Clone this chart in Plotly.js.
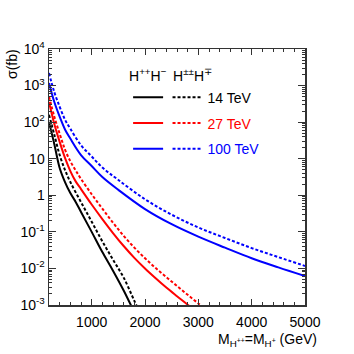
<!DOCTYPE html>
<html>
<head>
<meta charset="utf-8">
<script src="https://cdn.plot.ly/plotly-3.0.1.min.js"></script>
<style>
  body { margin: 0; background: #fff; }
  #plotArea { width: 354px; height: 354px; }
</style>
</head>
<body>
<div id="plotArea"></div>
<script>
// cross sections in fb
// H++H- (solid)
var mass14 = [200, 300, 400, 500, 600, 700, 800, 1000, 1200, 1400, 1600, 1800]
var pair14 = [100, 25, 5.6, 2.3, 1.15, 0.66, 0.35, 0.10, 0.028, 0.0087, 0.0025, 0.00063]
var mass27 = [200, 300, 400, 500, 600, 700, 800, 1000, 1200, 1400, 1600, 1800, 2000, 2200, 2400, 2600, 2800, 3000]
var pair27 = [355, 89, 28.8, 10.5, 4.6, 2.4, 1.48, 0.56, 0.224, 0.093, 0.041, 0.0195, 0.01, 0.0054, 0.003, 0.00174, 0.00102, 0.00058]
var mass100 = [200, 300, 400, 500, 600, 800, 1000, 1200, 1500, 2000, 2500, 3000, 3500, 4000, 4500, 5000]
var pair100 = [1175, 355, 141, 63, 35.5, 12.6, 6.3, 3.16, 1.41, 0.42, 0.162, 0.074, 0.037, 0.019, 0.0107, 0.0062]

// H±±H∓ (dotted)
var massA14 = [200, 300, 400, 500, 600, 800, 1000, 1200, 1400, 1600, 1800, 1900]
var assoc14 = [160, 45, 12.6, 4.9, 2.3, 0.65, 0.19, 0.055, 0.0174, 0.0056, 0.0013, 0.00063]
var massA27 = [200, 300, 400, 500, 600, 700, 800, 1000, 1200, 1400, 1600, 1800, 2000, 2200, 2400, 2600, 2800, 3000, 3200]
var assoc27 = [500, 141, 48, 17.8, 8.5, 4.8, 2.8, 1.07, 0.43, 0.178, 0.078, 0.037, 0.019, 0.0102, 0.0058, 0.0033, 0.0019, 0.0011, 0.00063]
var assoc100 = [2190, 660, 263, 117, 66, 23.4, 11.5, 5.75, 2.63, 0.78, 0.295, 0.132, 0.068, 0.036, 0.0204, 0.0117]

var energies = ["14 TeV", "27 TeV", "100 TeV"]
var colors = ["black", "red", "blue"]

var ytickvals = [0.001, 0.01, 0.1, 1, 10, 100, 1000, 10000]
var yticktext = ["10<sup>-3</sup>", "10<sup>-2</sup>", "10<sup>-1</sup>", "1", "10", "10<sup>2</sup>", "10<sup>3</sup>", "10<sup>4</sup>"]

var solidX = [mass14, mass27, mass100]
var solidY = [pair14, pair27, pair100]
var dotX = [massA14, massA27, mass100]
var dotY = [assoc14, assoc27, assoc100]

var data = []
for (var i = 0; i < 3; i++) {
    data.push({
        x: solidX[i], y: solidY[i],
        mode: "lines", line: { color: colors[i], width: 2, shape: "spline" },
        name: " ", legend: "legend", legendgroup: "s" + i
    })
}
for (var i = 0; i < 3; i++) {
    data.push({
        x: dotX[i], y: dotY[i],
        mode: "lines", line: { color: colors[i], width: 2, dash: "3px,2px", shape: "spline" },
        name: "<span style='color:" + colors[i] + "'>" + energies[i] + "</span>",
        legend: "legend2", legendgroup: "d" + i
    })
}

var font = { family: "Liberation Sans, Arial, sans-serif", size: 14, color: "black" }

var layout = {
    width: 354, height: 354,
    margin: { l: 49, r: 49, t: 49, b: 49 },
    paper_bgcolor: "white", plot_bgcolor: "white",
    font: font,
    showlegend: true,
    xaxis: {
        range: [200, 5000], tick0: 0, dtick: 1000,
        ticks: "inside", ticklen: 6, tickcolor: "#333", ticklabelstandoff: 4,
        showline: true, linecolor: "#333", linewidth: 1.5, mirror: "allticks",
        showgrid: false, zeroline: false,
        minor: { ticks: "inside", ticklen: 3, dtick: 200, tick0: 0, tickcolor: "#333", showgrid: false },
        tickfont: font
    },
    yaxis: {
        type: "log", range: [-3, 4],
        tickmode: "array", tickvals: ytickvals, ticktext: yticktext,
        ticks: "inside", ticklen: 7, tickcolor: "#333",
        showline: true, linecolor: "#333", linewidth: 1.5, mirror: "allticks",
        showgrid: false, zeroline: false,
        minor: { ticks: "inside", ticklen: 3, dtick: "D1", tickcolor: "#333", showgrid: false },
        tickfont: font
    },
    legend: {
        x: 0.309, y: 0.872, xanchor: "left", yanchor: "top",
        bgcolor: "rgba(0,0,0,0)", font: font, tracegroupgap: 4.5
    },
    legend2: {
        x: 0.463, y: 0.872, xanchor: "left", yanchor: "top",
        bgcolor: "rgba(0,0,0,0)", font: font, tracegroupgap: 4.5
    },
    annotations: [
        { text: "H<sup>++</sup>H<sup>\u2212</sup>", xref: "paper", yref: "paper", x: 0.387, y: 0.898, xanchor: "center", yanchor: "middle", showarrow: false, font: font },
        { text: "H<sup>\u00b1\u00b1</sup>H<sup>\u2213</sup>", xref: "paper", yref: "paper", x: 0.559, y: 0.898, xanchor: "center", yanchor: "middle", showarrow: false, font: font },
        { text: "\u03c3(fb)", xref: "paper", yref: "paper", x: -0.145, y: 0.941, xanchor: "center", yanchor: "middle", textangle: -90, showarrow: false, font: font },
        { text: "M<sub>H<sup>++</sup></sub>=M<sub>H<sup>+</sup></sub> (GeV)", xref: "paper", yref: "paper", x: 0.852, y: -0.137, xanchor: "center", yanchor: "middle", showarrow: false, font: font }
    ]
}

Plotly.newPlot("plotArea", data, layout, { staticPlot: true })
</script>
</body>
</html>
